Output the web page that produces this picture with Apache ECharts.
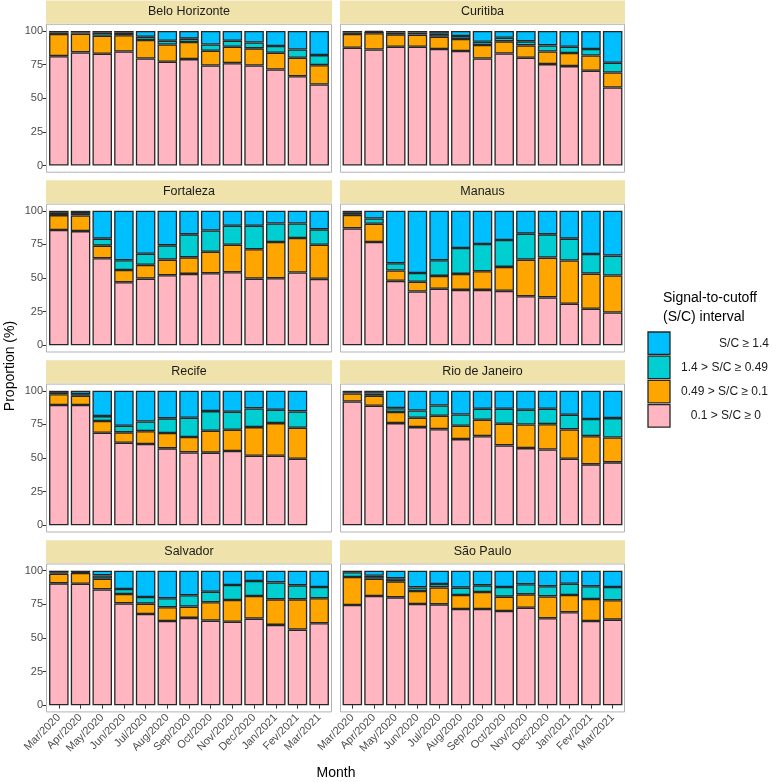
<!DOCTYPE html>
<html><head><meta charset="utf-8">
<script src="https://cdn.jsdelivr.net/npm/echarts@6/dist/echarts.min.js"></script>
<style>html,body{margin:0;padding:0;background:#fff}#c{width:777px;height:782px}</style>
</head><body><div id="c"></div>
<script>
const months = ['Mar/2020','Apr/2020','May/2020','Jun/2020','Jul/2020','Aug/2020','Sep/2020','Oct/2020','Nov/2020','Dec/2020','Jan/2021','Fev/2021','Mar/2021'];
const cities = ['Belo Horizonte','Curitiba','Fortaleza','Manaus','Recife','Rio de Janeiro','Salvador','São Paulo'];
const intervals = ['0.1 > S/C ≥ 0','0.49 > S/C ≥ 0.1','1.4 > S/C ≥ 0.49','S/C ≥ 1.4'];
const colors = ['#FFB6C1','#FFA500','#00CED1','#00BFFF'];
const yTicks = [0,25,50,75,100];

// Proportions (%) per month, rows: [0.1>S/C≥0, 0.49>S/C≥0.1, 1.4>S/C≥0.49, S/C≥1.4]
const beloHorizonte = [
  [81.3,84.1,83.1,84.8,79.6,77.1,79.1,74.4,76.1,74.4,71.4,66.4,60.2],
  [16.5,13.9,13.4,12.0,13.7,12.9,12.7,10.9,12.2,12.7,12.4,13.7,14.4],
  [1.2,1.0,2.3,2.0,2.4,2.8,2.5,4.7,4.5,4.4,5.0,6.2,7.5],
  [1.0,1.0,1.2,1.2,4.3,7.2,5.7,10.0,7.2,8.5,11.2,13.7,17.9]];
const curitiba = [
  [87.6,86.3,88.3,88.3,86.6,85.1,79.6,83.3,80.1,75.4,73.9,70.4,58.0],
  [10.2,12.0,9.2,9.0,9.2,8.9,10.0,9.0,9.2,9.4,9.7,11.4,11.2],
  [1.2,1.0,1.5,1.5,2.2,2.3,2.4,2.7,3.0,4.5,4.7,4.8,7.2],
  [1.0,0.7,1.0,1.2,2.0,3.7,8.0,5.0,7.7,10.7,11.7,13.4,23.6]];
const fortaleza = [
  [85.7,84.9,64.7,46.9,49.6,52.1,53.1,53.6,54.3,49.6,49.9,54.1,49.4],
  [11.1,11.6,9.4,9.1,10.2,11.6,12.3,16.0,20.5,21.8,26.9,25.7,25.4],
  [1.7,1.8,5.2,7.2,8.3,10.6,17.1,15.8,14.1,17.5,13.8,10.8,11.4],
  [1.5,1.7,20.7,36.8,31.9,25.7,17.5,14.6,11.1,11.1,9.4,9.4,13.8]];
const manaus = [
  [86.9,76.8,47.9,40.0,42.0,41.2,41.2,40.5,36.5,35.6,30.9,27.2,24.4],
  [10.1,13.6,7.7,7.2,9.6,11.9,13.9,17.8,27.2,29.6,32.1,26.1,27.5],
  [1.5,3.9,5.4,6.6,11.6,19.2,20.2,20.0,19.3,17.3,16.3,14.6,14.8],
  [1.5,5.7,39.0,46.2,36.8,27.7,24.7,21.7,17.0,17.5,20.7,32.1,33.3]];
const recife = [
  [89.4,89.4,68.8,61.4,60.4,57.2,54.2,54.0,55.2,51.7,51.7,49.5,null],
  [8.1,6.9,8.7,7.7,9.6,11.4,11.4,16.3,15.8,21.3,24.3,23.0,null],
  [1.5,1.2,3.7,4.9,7.2,10.9,14.4,14.6,13.4,13.9,9.9,12.2,null],
  [1.0,2.5,18.8,26.0,22.8,20.5,20.0,15.1,15.6,13.1,14.1,15.3,null]];
const rioDeJaneiro = [
  [92.1,88.9,76.0,73.0,71.5,64.1,66.3,59.4,57.4,56.4,49.5,45.3,46.8],
  [5.9,7.4,8.2,7.0,9.9,9.9,12.2,16.1,17.6,18.8,21.8,21.0,18.5],
  [1.0,1.7,2.9,5.4,7.7,8.4,8.1,11.1,10.9,11.4,10.9,12.7,14.4],
  [1.0,2.0,12.9,14.6,10.9,17.6,13.4,13.4,14.1,13.4,17.8,21.0,20.3]];
const salvador = [
  [90.6,90.3,86.1,75.7,67.8,62.6,64.9,62.9,62.1,64.4,59.7,56.2,60.9],
  [7.2,8.0,8.0,7.0,7.7,10.2,8.4,13.6,16.1,16.8,19.0,22.5,18.6],
  [0.7,0.7,2.4,3.7,4.9,6.7,8.4,7.9,11.2,11.1,12.6,10.4,8.4],
  [1.5,1.0,3.5,13.6,19.6,20.5,18.3,15.6,10.6,7.7,8.7,10.9,12.1]];
const saoPaulo = [
  [74.5,81.2,80.2,75.2,75.0,71.5,71.5,70.0,72.5,64.6,69.1,62.6,63.6],
  [20.8,12.9,11.9,9.7,12.6,10.4,12.7,10.7,9.9,16.3,12.8,16.4,14.4],
  [3.5,2.2,2.2,2.7,2.5,5.5,4.9,7.2,7.5,7.5,8.4,9.4,9.9],
  [1.2,3.7,5.7,12.4,9.9,12.6,10.9,12.1,10.1,11.6,9.7,11.6,12.1]];
const cityData = [beloHorizonte,curitiba,fortaleza,manaus,recife,rioDeJaneiro,salvador,saoPaulo];

// layout
const colLeft = [48, 341.5], gridW = 282;
const borderLeft = [46, 340], borderW = [286, 285];
const rowTop = [31, 210.8, 390.8, 570.7], plotH = 134.5, pad = 6.7;
const font = 'Liberation Sans, Arial, sans-serif';

const grids = [], xAxes = [], yAxes = [], series = [], graphic = [];
cities.forEach((city, i) => {
  const r = Math.floor(i / 2), c = i % 2;
  const bottom = r === 3, left = c === 0;
  grids.push({left: colLeft[c], top: rowTop[r], width: gridW, height: plotH});
  xAxes.push({
    type: 'category', gridIndex: i, data: months, boundaryGap: true, offset: pad,
    axisLine: {show: false},
    axisTick: {show: bottom, alignWithLabel: true, length: 3.5, lineStyle: {color: '#333'}},
    axisLabel: {show: bottom, interval: 0, rotate: 45, fontSize: 11, color: '#4D4D4D', fontFamily: font, margin: 4},
    splitLine: {show: false}
  });
  yAxes.push({
    type: 'value', gridIndex: i, min: 0, max: 100, interval: 25, offset: 2,
    axisLine: {show: false},
    axisTick: {show: left, length: 3.5, lineStyle: {color: '#333'}},
    axisLabel: {show: left, fontSize: 11, color: '#4D4D4D', fontFamily: font, margin: 3,
      customValues: yTicks},
    splitLine: {show: false}
  });
  cityData[i].forEach((vals, k) => {
    series.push({
      type: 'bar', name: intervals[k], xAxisIndex: i, yAxisIndex: i, stack: 'p' + i,
      data: vals, barCategoryGap: '10%',
      itemStyle: {color: colors[k], borderColor: '#262626', borderWidth: 1.3},
      emphasis: {disabled: true}, animation: false
    });
  });
  graphic.push({type: 'rect', shape: {x: borderLeft[c] + 0.5, y: rowTop[r] - pad, width: borderW[c] - 1, height: plotH + 2 * pad},
    style: {fill: null, stroke: '#B3B3B3', lineWidth: 1}, z: 1, silent: true});
  graphic.push({type: 'rect', shape: {x: borderLeft[c], y: rowTop[r] - 30.5, width: borderW[c], height: 23},
    style: {fill: '#EFE2AB'}, silent: true});
  graphic.push({type: 'text', x: borderLeft[c] + borderW[c] / 2, y: rowTop[r] - 19,
    style: {text: city, font: '12.5px ' + font, fill: '#1A1A1A', textAlign: 'center', textVerticalAlign: 'middle'}, silent: true});
});

// axis titles
graphic.push({type: 'text', x: 336, y: 773, style: {text: 'Month', font: '14px ' + font, fill: '#000', textAlign: 'center', textVerticalAlign: 'middle'}});
graphic.push({type: 'text', x: 10, y: 366, rotation: Math.PI / 2, style: {text: 'Proportion (%)', font: '14px ' + font, fill: '#000', textAlign: 'center', textVerticalAlign: 'middle'}});

// legend
graphic.push({type: 'text', x: 663, y: 298, style: {text: 'Signal-to-cutoff', font: '14px ' + font, fill: '#000', textAlign: 'left', textVerticalAlign: 'middle'}});
graphic.push({type: 'text', x: 663, y: 317, style: {text: '(S/C) interval', font: '14px ' + font, fill: '#000', textAlign: 'left', textVerticalAlign: 'middle'}});
const legOrder = [3, 2, 1, 0];
const legRight = [769, 768, 768, 761];
legOrder.forEach((k, j) => {
  const y = 332 + j * 24.2;
  graphic.push({type: 'rect', shape: {x: 648, y: y, width: 22, height: 22.5},
    style: {fill: colors[k], stroke: '#262626', lineWidth: 1.3}});
  graphic.push({type: 'text', x: legRight[j], y: y + 11.5,
    style: {text: intervals[k], font: '12px ' + font, fill: '#1A1A1A', textAlign: 'right', textVerticalAlign: 'middle'}});
});

const chart = echarts.init(document.getElementById('c'), null, {renderer: 'canvas'});
chart.setOption({
  backgroundColor: '#fff', animation: false,
  grid: grids, xAxis: xAxes, yAxis: yAxes, series: series, graphic: graphic
});
</script></body></html>
